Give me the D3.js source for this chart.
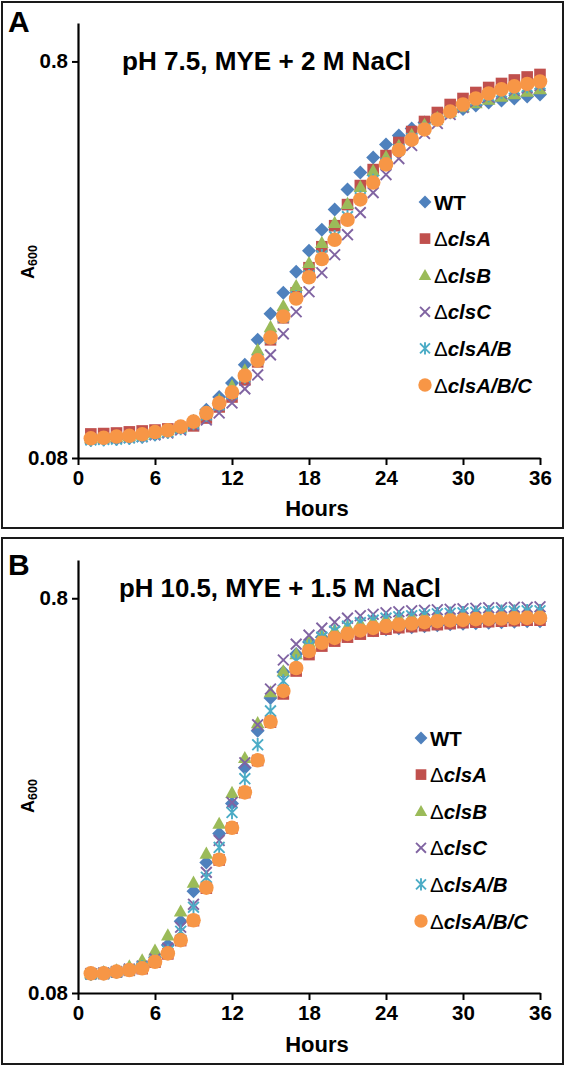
<!DOCTYPE html>
<html><head><meta charset="utf-8">
<script src="https://cdn.jsdelivr.net/npm/d3@7"></script>
<style>body{margin:0;background:#fff}svg{display:block}text{font-family:"Liberation Sans",Arial,sans-serif}</style>
</head><body><svg id="c" width="566" height="1067"></svg>
<script>
const hours = [1,2,3,4,5,6,7,8,9,10,11,12,13,14,15,16,17,18,19,20,21,22,23,24,25,26,27,28,29,30,31,32,33,34,35,36];
const seriesNames = ["WT","ΔclsA","ΔclsB","ΔclsC","ΔclsA/B","ΔclsA/B/C"];
const seriesColors = ["#4F81BD","#C0504D","#9BBB59","#8064A2","#4BACC6","#F79646"];
const xTicks = [0,6,12,18,24,30,36];
const yTicks = [0.08,0.8];
const titleA = "pH 7.5, MYE + 2 M NaCl";
const titleB = "pH 10.5, MYE + 1.5 M NaCl";

const aWT = [0.0888,0.0891,0.0893,0.0899,0.0904,0.0915,0.0931,0.0952,0.0992,0.1058,0.1140,0.1237,0.1374,0.1589,0.1848,0.2088,0.2360,0.2666,0.3011,0.3384,0.3801,0.4195,0.4578,0.4937,0.5202,0.5419,0.5612,0.5777,0.5947,0.6070,0.6194,0.6303,0.6376,0.6451,0.6527,0.6603];
const aClsA = [0.0920,0.0922,0.0925,0.0931,0.0936,0.0941,0.0947,0.0955,0.0964,0.1009,0.1076,0.1140,0.1259,0.1398,0.1589,0.1806,0.2088,0.2415,0.2728,0.3082,0.3484,0.3891,0.4269,0.4631,0.4996,0.5325,0.5645,0.5947,0.6230,0.6451,0.6680,0.6877,0.7039,0.7184,0.7310,0.7417];
const aClsB = [0.0899,0.0901,0.0904,0.0909,0.0917,0.0928,0.0941,0.0958,0.0992,0.1045,0.1121,0.1216,0.1334,0.1499,0.1713,0.1936,0.2175,0.2486,0.2793,0.3137,0.3504,0.3868,0.4244,0.4604,0.4909,0.5233,0.5547,0.5777,0.5982,0.6140,0.6285,0.6413,0.6527,0.6622,0.6719,0.6818];
const aClsC = [0.0893,0.0896,0.0899,0.0901,0.0906,0.0915,0.0925,0.0941,0.0969,0.0998,0.1039,0.1101,0.1195,0.1296,0.1456,0.1645,0.1870,0.2100,0.2346,0.2604,0.2926,0.3325,0.3735,0.4147,0.4551,0.4909,0.5264,0.5579,0.5879,0.6122,0.6340,0.6509,0.6642,0.6759,0.6858,0.6958];
const aClsAB = [0.0888,0.0891,0.0893,0.0899,0.0906,0.0920,0.0931,0.0950,0.0978,0.1027,0.1089,0.1164,0.1281,0.1414,0.1607,0.1816,0.2040,0.2305,0.2589,0.2892,0.3248,0.3628,0.4005,0.4421,0.4798,0.5113,0.5419,0.5710,0.5965,0.6194,0.6396,0.6565,0.6700,0.6818,0.6918,0.7019];
const aClsABC = [0.0897,0.0900,0.0906,0.0910,0.0918,0.0930,0.0940,0.0960,0.0988,0.1038,0.1100,0.1172,0.1290,0.1410,0.1610,0.1820,0.2020,0.2285,0.2540,0.2840,0.3190,0.3590,0.3960,0.4400,0.4780,0.5080,0.5390,0.5710,0.5980,0.6230,0.6450,0.6640,0.6800,0.6920,0.7020,0.7120];

const bWT = [0.0899,0.0901,0.0909,0.0922,0.0941,0.0986,0.1058,0.1216,0.1448,0.1713,0.2028,0.2415,0.2977,0.3691,0.4473,0.5202,0.5777,0.6194,0.6376,0.6489,0.6565,0.6603,0.6642,0.6680,0.6719,0.6759,0.6798,0.6837,0.6877,0.6897,0.6918,0.6937,0.6958,0.6978,0.6998,0.6998];
const bClsA = [0.0895,0.0896,0.0904,0.0913,0.0922,0.0958,0.1005,0.1086,0.1220,0.1475,0.1738,0.2094,0.2575,0.3105,0.3885,0.4578,0.5233,0.5760,0.6052,0.6230,0.6376,0.6489,0.6603,0.6680,0.6738,0.6778,0.6818,0.6858,0.6897,0.6937,0.6958,0.6978,0.6998,0.7019,0.7039,0.7039];
const bClsB = [0.0899,0.0904,0.0915,0.0936,0.0969,0.1027,0.1121,0.1289,0.1525,0.1806,0.2150,0.2574,0.3156,0.3868,0.4631,0.5233,0.5777,0.6194,0.6451,0.6642,0.6798,0.6918,0.7019,0.7101,0.7163,0.7204,0.7246,0.7289,0.7330,0.7352,0.7373,0.7395,0.7417,0.7438,0.7438,0.7460];
const bClsC = [0.0896,0.0899,0.0906,0.0920,0.0936,0.0975,0.1039,0.1174,0.1342,0.1617,0.1948,0.2429,0.3065,0.3823,0.4713,0.5579,0.6122,0.6451,0.6719,0.6958,0.7122,0.7225,0.7289,0.7352,0.7395,0.7438,0.7460,0.7483,0.7504,0.7527,0.7548,0.7570,0.7570,0.7593,0.7593,0.7614];
const bClsAB = [0.0893,0.0896,0.0904,0.0915,0.0931,0.0964,0.1021,0.1147,0.1319,0.1571,0.1870,0.2292,0.2793,0.3403,0.4147,0.4937,0.5547,0.6052,0.6376,0.6603,0.6798,0.6937,0.7039,0.7122,0.7184,0.7225,0.7267,0.7310,0.7330,0.7352,0.7373,0.7395,0.7417,0.7417,0.7438,0.7438];
const bClsABC = [0.0897,0.0897,0.0906,0.0915,0.0924,0.0960,0.1008,0.1089,0.1223,0.1479,0.1741,0.2097,0.2579,0.3109,0.3891,0.4659,0.5325,0.5879,0.6169,0.6351,0.6499,0.6630,0.6731,0.6798,0.6865,0.6905,0.6958,0.6998,0.7028,0.7052,0.7081,0.7092,0.7109,0.7122,0.7133,0.7133];

const svg = d3.select("#c");
const markerTypes = ["diamond","square","triangle","x","star","circle"];

function drawMarker(g, type, color, scale){
  const s = scale || 1;
  if(type==="diamond"){ const r=7*s; g.append("path").attr("d",`M0,${-r}L${r},0L0,${r}L${-r},0Z`).attr("fill",color); }
  else if(type==="square"){ const r=5.8*s; g.append("path").attr("d",`M${-r},${-r}H${r}V${r}H${-r}Z`).attr("fill",color); }
  else if(type==="triangle"){ const r=6.8*s; g.append("path").attr("d",`M0,${-r}L${r},${r*0.78}L${-r},${r*0.78}Z`).attr("fill",color); }
  else if(type==="x"){ const r=5.4*s; g.append("path").attr("d",`M${-r},${-r}L${r},${r}M${-r},${r}L${r},${-r}`).attr("stroke",color).attr("stroke-width",1.9).attr("fill","none"); }
  else if(type==="star"){ const r=5.4*s; g.append("path").attr("d",`M${-r},${-r}L${r},${r}M${-r},${r}L${r},${-r}M0,${-r*1.25}V${r*1.25}`).attr("stroke",color).attr("stroke-width",1.9).attr("fill","none"); }
  else { g.append("circle").attr("r",7.3*s).attr("fill",color); }
}

function panel(cfg){
  const g = svg.append("g");
  g.append("rect").attr("x",cfg.box[0]).attr("y",cfg.box[1]).attr("width",cfg.box[2]).attr("height",cfg.box[3])
    .attr("fill","none").attr("stroke","#1a1a1a").attr("stroke-width",2);
  const x = d3.scaleLinear().domain([0,36]).range([78,540]);
  const y = d3.scaleLog().domain([0.08,1.0]).range([cfg.yBottom, cfg.yTop]);

  const xa = g.append("g").attr("transform",`translate(0,${cfg.yBottom})`)
    .call(d3.axisBottom(x).tickValues(xTicks).tickSizeInner(7).tickSizeOuter(0).tickPadding(5).tickFormat(d3.format("d")));
  const ya = g.append("g").attr("transform","translate(78,0)")
    .call(d3.axisLeft(y).tickValues(yTicks).tickSizeInner(6).tickSizeOuter(0).tickPadding(4).tickFormat(d=>String(d)));
  [xa,ya].forEach(a=>{
    a.select(".domain").attr("stroke","#000").attr("stroke-width",2.2);
    a.selectAll(".tick line").attr("stroke","#000").attr("stroke-width",2);
    a.selectAll(".tick text").attr("fill","#000").style("font-size","20.5px").style("font-weight","bold").style("font-family","'Liberation Sans',Arial,sans-serif");
  });

  cfg.data.forEach((vals,i)=>{
    const sg = g.append("g");
    vals.forEach((v,j)=>{
      const mg = sg.append("g").attr("transform",`translate(${x(hours[j])},${y(v)})`);
      drawMarker(mg, markerTypes[i], seriesColors[i], 1);
    });
  });

  g.append("text").attr("x",cfg.titleX).attr("y",cfg.titleY).text(cfg.title)
    .style("font-size","25px").style("font-weight","bold").attr("textLength",cfg.titleW).attr("lengthAdjust","spacingAndGlyphs");
  g.append("text").attr("x",8).attr("y",cfg.letterY).text(cfg.letter).style("font-size","30px").style("font-weight","bold");
  g.append("text").attr("x",317).attr("y",cfg.hoursY).attr("text-anchor","middle").text("Hours")
    .style("font-size","22px").style("font-weight","bold");
  const yl = g.append("text").attr("transform",`translate(34,${cfg.ylabY}) rotate(-90)`).attr("text-anchor","middle");
  yl.append("tspan").text("A").style("font-size","18px").style("font-weight","bold");
  yl.append("tspan").text("600").style("font-size","12.5px").style("font-weight","bold").attr("dy",3);

  seriesNames.forEach((nm,i)=>{
    const ly = cfg.legY + i*36.6;
    const mg = g.append("g").attr("transform",`translate(${cfg.legX},${ly})`);
    drawMarker(mg, markerTypes[i], seriesColors[i], 0.92);
    const t = g.append("text").attr("x",cfg.legX+9).attr("y",ly+7.5).style("font-size","20.5px");
    if(nm==="WT"){ t.append("tspan").text("WT").style("font-weight","bold"); }
    else {
      t.append("tspan").text("Δ");
      t.append("tspan").text(nm.slice(1)).style("font-weight","bold").style("font-style","italic");
    }
  });
}

panel({box:[2,2,561,526], yBottom:458, yTop:23, data:[aWT,aClsA,aClsB,aClsC,aClsAB,aClsABC],
  title:titleA, titleX:122, titleY:70, titleW:289, letter:"A", letterY:32, hoursY:516, ylabY:262, legX:425, legY:202});
panel({box:[2,538,561,526], yBottom:993, yTop:560, data:[bWT,bClsA,bClsB,bClsC,bClsAB,bClsABC],
  title:titleB, titleX:119, titleY:597, titleW:322, letter:"B", letterY:575, hoursY:1052, ylabY:796, legX:421, legY:738});
</script></body></html>
